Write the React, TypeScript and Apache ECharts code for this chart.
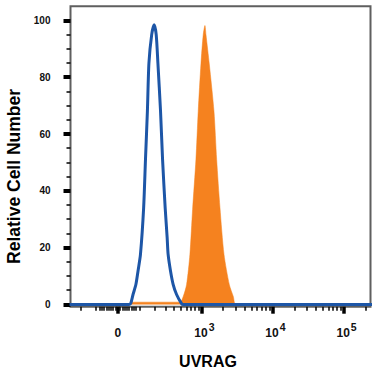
import React, { useEffect, useRef } from "react";
import * as echarts from "echarts";

// Fluorescence intensity (UVRAG channel) and relative cell counts
const isotypeIntensity = [-300, 50, 57, 68, 82, 93, 106, 124, 135, 147, 157, 176, 194, 210, 224, 247, 266, 292, 313, 324, 352, 386, 433, 512, 540, 250000];
const isotypeCount = [0, 0, 0.3, 3.5, 7, 11.8, 17.6, 34, 51, 68, 85, 95, 98.5, 95, 85, 68, 51, 34, 23.6, 17.6, 11.8, 7, 3.5, 0.3, 0, 0];

const stainedIntensity = [-300, 52, 60, 484, 541, 605, 675, 738, 823, 887, 970, 1045, 1105, 1142, 1272, 1482, 1617, 1801, 2052, 2437, 2774, 3028, 250000];
const stainedCount = [0, 0, 0.8, 0.8, 2.8, 7, 17.6, 33.5, 51, 68, 84.7, 95, 98.2, 95, 84.7, 68, 51, 34, 17.6, 7, 2.8, 0, 0];

// Axis ticks
const xMajorTicks = [0, 1000, 10000, 100000];
const xMinorTicks = [
  -200, -100, -80, -70, -60, -50, -40, -30, -20, -10, 10, 20, 30, 40, 50, 60, 70, 80, 100,
  200, 300, 400, 500, 600, 700, 800, 900,
  2000, 3000, 4000, 5000, 6000, 7000, 8000, 9000,
  20000, 30000, 40000, 50000, 60000, 70000, 80000, 90000,
  200000,
];
const yMajorTicks = [0, 20, 40, 60, 80, 100];
const yMinorTicks = [5, 10, 15, 25, 30, 35, 45, 50, 55, 65, 70, 75, 85, 90, 95];

const X_MIN_INTENSITY = -290;
const X_MAX_INTENSITY = 235000;

// biexponential-like display transform
const LIN_WIDTH = 66;
const fwd = (v: number) => Math.asinh(v / (2 * LIN_WIDTH)) / Math.LN10;
const inv = (u: number) => 2 * LIN_WIDTH * Math.sinh(u * Math.LN10);

const FONT = "'Liberation Sans', Arial, sans-serif";

export default function App() {
  const ref = useRef<HTMLDivElement>(null);
  useEffect(() => {
    if (!ref.current) return;
    const chart = echarts.init(ref.current, null, { renderer: "svg" });
    const uMin = fwd(X_MIN_INTENSITY);
    const uMax = fwd(X_MAX_INTENSITY);
    const xLabel = (u: number) => {
      const v = inv(u);
      if (Math.abs(v) < 1) return "{z|0}";
      const e = Math.round(Math.log10(v));
      return "{b|10}{s|" + e + "}";
    };
    const tickFont = { fontFamily: FONT, fontWeight: "bold", color: "#111" };
    chart.setOption({
      animation: false,
      grid: {
        left: 70.5,
        right: 4.5,
        top: 6.2,
        bottom: 68.3,
        containLabel: false,
        outerBoundsMode: "none",
        show: true,
        borderColor: "#5f5f5f",
        borderWidth: 2,
      },
      xAxis: [
        {
          type: "value",
          min: uMin,
          max: uMax,
          name: "UVRAG",
          nameLocation: "middle",
          nameGap: 47,
          nameTextStyle: {
            fontFamily: FONT,
            fontWeight: "bold",
            fontSize: 16,
            color: "#000",
            padding: [0, 25, 0, 0],
          },
          axisLine: { show: false, onZero: false },
          splitLine: { show: false },
          axisTick: {
            show: true,
            customValues: xMajorTicks.map(fwd),
            length: 7,
            lineStyle: { width: 3.5, color: "#000" },
          },
          axisLabel: {
            show: true,
            customValues: xMajorTicks.map(fwd),
            formatter: xLabel,
            margin: 15,
            padding: [0, 0, 0, 5],
            rich: {
              b: { ...tickFont, fontSize: 12, lineHeight: 17, verticalAlign: "bottom" },
              z: { ...tickFont, fontSize: 12, lineHeight: 17, verticalAlign: "bottom", padding: [0, 5, 0, 0] },
              s: { ...tickFont, fontSize: 10.5, lineHeight: 10, verticalAlign: "top", padding: [0, 0, 0, 1] },
            },
          },
        },
        {
          type: "value",
          min: uMin,
          max: uMax,
          position: "bottom",
          axisLine: { show: false, onZero: false },
          splitLine: { show: false },
          axisLabel: { show: false },
          axisTick: {
            show: true,
            customValues: xMinorTicks.map(fwd),
            length: 4,
            lineStyle: { width: 1.5, color: "#000" },
          },
        },
      ],
      yAxis: [
        {
          type: "value",
          min: -0.8,
          max: 105,
          name: "Relative Cell Number",
          nameLocation: "middle",
          nameGap: 48,
          nameTextStyle: {
            fontFamily: FONT,
            fontWeight: "bold",
            fontSize: 17.5,
            color: "#000",
            padding: [0, 40, 0, 0],
          },
          axisLine: { show: false, onZero: false },
          splitLine: { show: false },
          axisTick: {
            show: true,
            customValues: yMajorTicks,
            length: 7,
            lineStyle: { width: 4, color: "#000" },
          },
          axisLabel: {
            show: true,
            customValues: yMajorTicks,
            margin: 20,
            ...tickFont,
            fontSize: 10,
          },
        },
        {
          type: "value",
          min: -0.8,
          max: 105,
          position: "left",
          axisLine: { show: false, onZero: false },
          splitLine: { show: false },
          axisLabel: { show: false },
          axisTick: {
            show: true,
            customValues: yMinorTicks,
            length: 4,
            lineStyle: { width: 1.5, color: "#000" },
          },
        },
      ],
      series: [
        {
          type: "line",
          name: "UVRAG",
          xAxisIndex: 0,
          yAxisIndex: 0,
          data: stainedIntensity.map((v, i) => [fwd(v), stainedCount[i]]),
          showSymbol: false,
          smooth: 0.25,
          lineStyle: { width: 0.5, color: "#F5821F" },
          areaStyle: { color: "#F5821F", opacity: 1 },
          z: 2,
        },
        {
          type: "line",
          name: "Isotype",
          xAxisIndex: 0,
          yAxisIndex: 0,
          data: isotypeIntensity.map((v, i) => [fwd(v), isotypeCount[i]]),
          showSymbol: false,
          smooth: 0.25,
          lineStyle: { width: 3, color: "#1D56A7" },
          z: 3,
        },
      ],
    });
    return () => chart.dispose();
  }, []);
  return <div ref={ref} style={{ width: 375, height: 375, position: "absolute", left: 0, top: 0 }} />;
}
